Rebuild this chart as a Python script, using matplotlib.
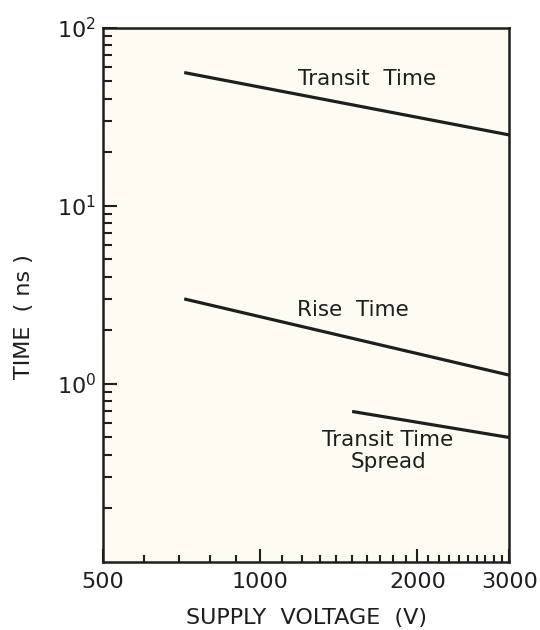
import matplotlib
matplotlib.use("Agg")
import matplotlib.pyplot as plt
from matplotlib.ticker import FixedLocator, FixedFormatter, NullFormatter, LogLocator

# ---- data ----
voltage_transit = [715, 3000]
transit_time = [56, 25]

voltage_rise = [715, 3000]
rise_time = [3.0, 1.12]

voltage_spread = [1500, 3000]
transit_spread = [0.70, 0.50]

x_major = [500, 1000, 2000, 3000]
x_major_labels = ["500", "1000", "2000", "3000"]
x_minor = [v for v in range(600, 3000, 100) if v not in (1000, 2000)]

y_major = [1, 10, 100]
y_major_labels = [r"$\mathdefault{10^{0}}$", r"$\mathdefault{10^{1}}$", r"$\mathdefault{10^{2}}$"]

# label annotations (text, x, y)
labels = [
    ("Transit  Time", 1600, 51.7),
    ("Rise  Time", 1506, 2.6),
    ("Transit Time\nSpread", 1758, 0.42),
]

ink = "#1e1e1e"
plt.rcParams['font.family'] = ['DejaVu Sans']

fig = plt.figure(figsize=(5.4, 6.3), dpi=100)
fig.patch.set_facecolor("white")
ax = fig.add_axes([0.191, 0.108, 0.752, 0.848])
ax.set_facecolor("#fefcf2")

ax.set_xscale("log")
ax.set_yscale("log")
ax.set_xlim(500, 3000)
ax.set_ylim(0.1, 100)

lw = 2.3
ax.plot(voltage_transit, transit_time, color=ink, lw=lw, solid_capstyle="butt")
ax.plot(voltage_rise, rise_time, color=ink, lw=lw, solid_capstyle="butt")
ax.plot(voltage_spread, transit_spread, color=ink, lw=lw, solid_capstyle="butt")

for txt, x, y in labels:
    ax.text(x, y, txt, ha="center", va="center", fontsize=15.5, color=ink,
            linespacing=1.15)

# x ticks
ax.xaxis.set_major_locator(FixedLocator(x_major))
ax.xaxis.set_major_formatter(FixedFormatter(x_major_labels))
ax.xaxis.set_minor_locator(FixedLocator(x_minor))
ax.xaxis.set_minor_formatter(NullFormatter())

# y ticks
ax.yaxis.set_major_locator(FixedLocator(y_major))
ax.yaxis.set_major_formatter(FixedFormatter(y_major_labels))
ax.yaxis.set_minor_locator(LogLocator(base=10, subs=range(2, 10)))
ax.yaxis.set_minor_formatter(NullFormatter())

ax.tick_params(axis="x", which="major", direction="in", length=9.5, width=1.5,
               labelsize=16, pad=7, colors=ink)
ax.tick_params(axis="x", which="minor", direction="in", length=5, width=1.5,
               colors=ink)
ax.tick_params(axis="y", which="major", direction="in", length=10, width=1.5,
               labelsize=16, pad=5, colors=ink)
ax.tick_params(axis="y", which="minor", direction="in", length=6.5, width=1.5,
               colors=ink)

for s in ax.spines.values():
    s.set_linewidth(1.8)
    s.set_color(ink)

ax.set_xlabel("SUPPLY  VOLTAGE  (V)", fontsize=16, color=ink, labelpad=12)
ax.set_ylabel("TIME  ( ns )", fontsize=16, color=ink)
ax.yaxis.set_label_coords(-0.17, 0.46)

fig.savefig("out.png", dpi=100)
